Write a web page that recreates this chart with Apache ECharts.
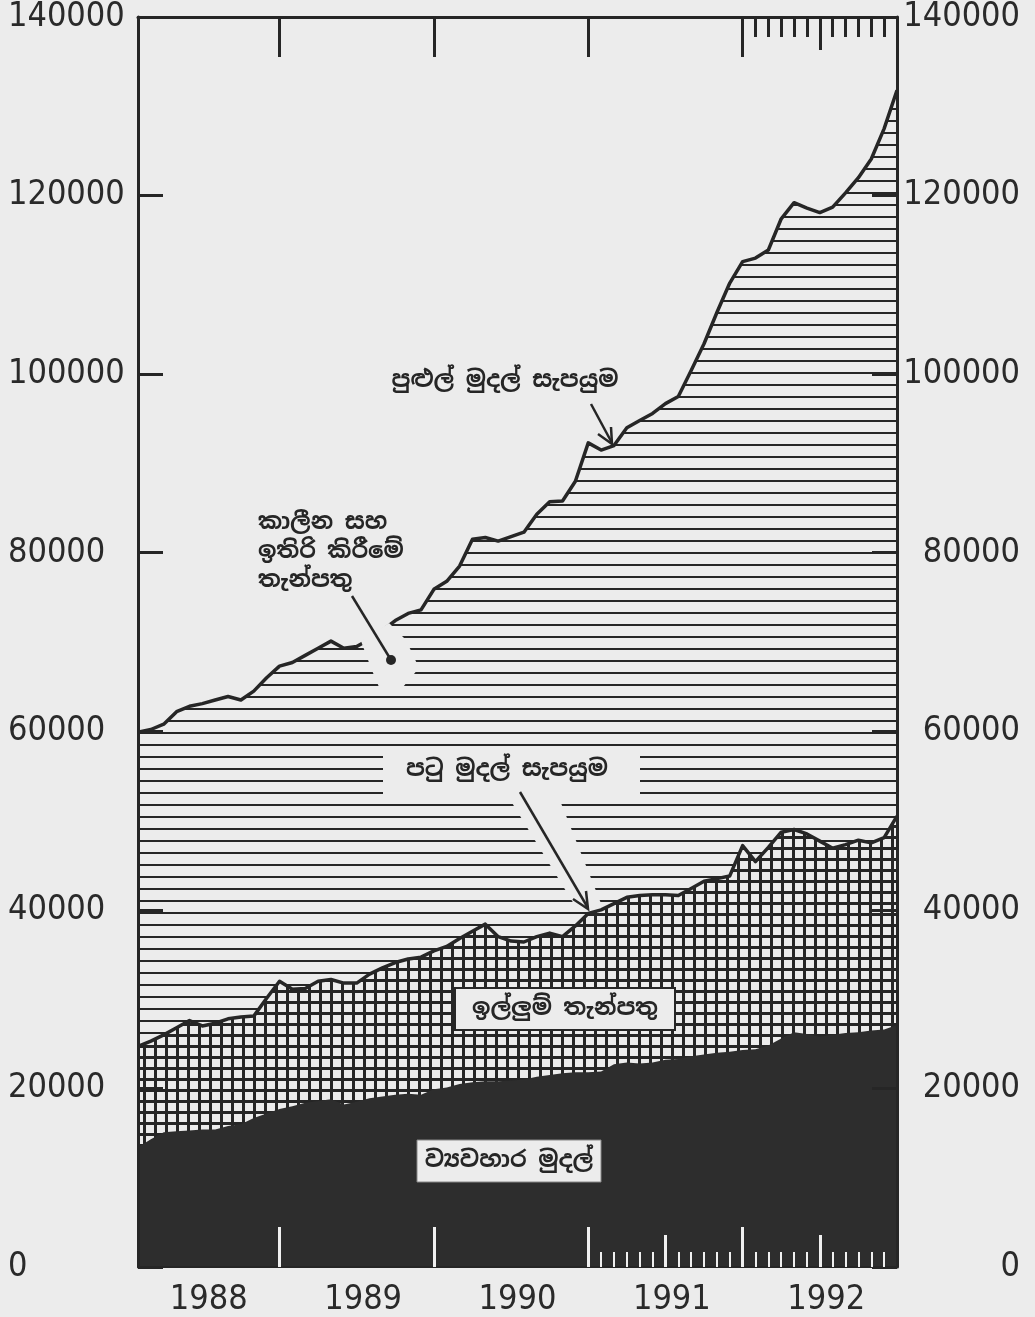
<!DOCTYPE html>
<html>
<head>
<meta charset="utf-8">
<script src="https://cdn.jsdelivr.net/npm/echarts@6/dist/echarts.min.js"></script>
<style>
html,body{margin:0;padding:0;background:#ececec;}
#c{width:1035px;height:1317px;}
</style>
</head>
<body>
<div id="c"></div>
<script>
// ---------- data (monthly, end of month, Jan 1988 .. Dec 1992) ----------
const years = ['1988', '1989', '1990', '1991', '1992'];
const yTickLabels = ['0', '20000', '40000', '60000', '80000', '100000', '120000', '140000'];

// broad money supply (top of horizontal hatch)
const broadMoney = [
  59900, 60200, 60800, 62200, 62800, 63100, 63500, 63900, 63500, 64500, 66000, 67300,
  67700, 68500, 69300, 70100, 69300, 69500, 70300, 71300, 72400, 73200, 73600, 75900,
  76800, 78500, 81500, 81700, 81300, 81800, 82300, 84300, 85700, 85800, 88000, 92300,
  91500, 92000, 94000, 94800, 95600, 96700, 97500, 100400, 103400, 106900, 110200, 112600,
  113000, 113900, 117400, 119200, 118600, 118100, 118700, 120300, 122000, 124100, 127500, 131800
];
// narrow money supply (top of cross hatch)
const narrowMoney = [
  24700, 25300, 26000, 26800, 27600, 27000, 27300, 27800, 28000, 28100, 30100, 32000,
  31100, 31200, 32000, 32200, 31800, 31800, 32800, 33500, 34100, 34500, 34700, 35400,
  35900, 36800, 37600, 38400, 37000, 36500, 36400, 37000, 37400, 37000, 38200, 39600,
  40000, 40700, 41400, 41600, 41700, 41700, 41600, 42400, 43200, 43500, 43800, 47200,
  45400, 47000, 48700, 49000, 48500, 47700, 46900, 47300, 47800, 47500, 48100, 50500
];
// currency (dark area)
const currency = [
  13400, 14300, 15100, 15200, 15300, 15400, 15400, 15800, 16000, 16700, 17200, 17700,
  18000, 18400, 18600, 18800, 18200, 18500, 18900, 19100, 19300, 19400, 19300, 19900,
  20100, 20500, 20700, 20800, 20800, 20900, 21000, 21300, 21500, 21700, 21800, 21800,
  21900, 22700, 22900, 22800, 22900, 23200, 23300, 23600, 23800, 24000, 24100, 24300,
  24400, 24800, 25600, 26300, 26100, 25800, 26000, 26200, 26300, 26500, 26600, 27100
];

const seriesNames = {
  broad: 'පුළුල් මුදල් සැපයුම',
  narrow: 'පටු මුදල් සැපයුම',
  time: 'කාලීන සහ\nඉතිරි කිරීමේ\nතැන්පතු',
  demand: 'ඉල්ලුම් තැන්පතු',
  currency: 'ව්‍යවහාර මුදල්'
};

// month positions of ticks (month index, 12 = end of 1988)
const yearBoundaryMonths = [12, 24, 36, 48];
const bottomMinorMonths = [37, 38, 39, 40, 41, 43, 44, 45, 46, 47, 49, 50, 51, 52, 53, 55, 56, 57, 58, 59];
const bottomMidMonths = [42, 54];
const topMinorMonths = [49, 50, 51, 52, 53, 55, 56, 57, 58, 59];
const topMidMonths = [54];
const yearLabelPos = [6.5, 18.5, 30.5, 42.5, 54.5];

// ---------- styling ----------
const PAPER = '#ececec';
const INK = '#262626';
const DARK = '#2d2d2d';
const NUM_FONT = "'Liberation Sans Narrow', 'DejaVu Sans Condensed', 'Liberation Sans', sans-serif";
const SIN_FONT = "'Noto Sans Sinhala', 'Iskoola Pota', 'Noto Sans', sans-serif";
const NUM_SIZE = 34;

function makePattern(w, h, draw) {
  const c = document.createElement('canvas');
  c.width = w; c.height = h;
  const g = c.getContext('2d');
  g.fillStyle = PAPER; g.fillRect(0, 0, w, h);
  g.fillStyle = INK; draw(g, w, h);
  return { image: c, repeat: 'repeat' };
}
const hatchPattern = makePattern(12, 12, (g, w) => g.fillRect(0, 0, w, 2));
const gridPattern = makePattern(11, 11, (g, w, h) => { g.fillRect(0, 0, 3, h); g.fillRect(0, 0, w, 3); });

function pairs(arr) { return arr.map((v, i) => [i + 1, v]); }

const xBase = { type: 'value', min: 1, max: 60, splitLine: { show: false }, z: 10 };
function tickAxis(position, values, length, color, width, showLine) {
  return Object.assign({}, xBase, {
    position: position,
    axisLine: { show: !!showLine, onZero: false, lineStyle: { color: INK, width: 3 } },
    axisTick: { show: true, inside: true, length: length, customValues: values, lineStyle: { color: color, width: width } },
    axisLabel: { show: false }
  });
}

const yBase = {
  type: 'value', min: 0, max: 140000, interval: 20000, splitLine: { show: false }, z: 10,
  axisLine: { show: true, lineStyle: { color: INK, width: 3 } },
  axisTick: { show: true, inside: true, length: 25, lineStyle: { color: INK, width: 3 } }
};

const chart = echarts.init(document.getElementById('c'), null, { renderer: 'canvas' });

const labelFont = 'bold 23px ' + SIN_FONT;

chart.setOption({
  backgroundColor: PAPER,
  animation: false,
  grid: { left: 138, right: 138, top: 17, bottom: 49 },
  xAxis: [
    Object.assign({}, xBase, {
      position: 'bottom',
      axisLine: { show: true, onZero: false, lineStyle: { color: INK, width: 2 } },
      axisTick: { show: true, inside: true, length: 40, customValues: yearBoundaryMonths, lineStyle: { color: '#f0f0f0', width: 3 } },
      axisLabel: {
        show: true, customValues: yearLabelPos, margin: 16,
        formatter: v => years[Math.floor(v / 12)],
        fontSize: NUM_SIZE, fontFamily: NUM_FONT, color: '#2a2a2a'
      }
    }),
    tickAxis('bottom', bottomMinorMonths, 15, '#f0f0f0', 2, false),
    tickAxis('bottom', bottomMidMonths, 32, '#f0f0f0', 3, false),
    tickAxis('top', yearBoundaryMonths, 40, INK, 3, true),
    tickAxis('top', topMinorMonths, 20, INK, 3, false),
    tickAxis('top', topMidMonths, 33, INK, 3, false)
  ],
  yAxis: [
    Object.assign({}, yBase, {
      position: 'left',
      axisLabel: { align: 'left', margin: 130, fontSize: NUM_SIZE, fontFamily: NUM_FONT, color: '#2a2a2a',
        padding: [6, 0, 0, 0],
        formatter: v => yTickLabels[Math.round(v / 20000)] }
    }),
    Object.assign({}, yBase, {
      position: 'right',
      axisLabel: { align: 'right', margin: 123, fontSize: NUM_SIZE, fontFamily: NUM_FONT, color: '#2a2a2a',
        padding: [0, 0, 10, 0],
        formatter: v => yTickLabels[Math.round(v / 20000)] }
    })
  ],
  series: [
    {
      type: 'line', name: seriesNames.broad, data: pairs(broadMoney), symbol: 'none', z: 2,
      lineStyle: { color: INK, width: 3.5, join: 'round' },
      areaStyle: { color: hatchPattern, opacity: 1 }
    },
    {
      type: 'line', name: seriesNames.narrow, data: pairs(narrowMoney), symbol: 'none', z: 3,
      lineStyle: { color: INK, width: 3.5, join: 'round' },
      areaStyle: { color: gridPattern, opacity: 1 }
    },
    {
      type: 'line', name: seriesNames.currency, data: pairs(currency), symbol: 'none', z: 4,
      lineStyle: { width: 0 },
      areaStyle: { color: DARK, opacity: 1 }
    }
  ],
  graphic: [
    // cleared gap around the time & savings leader
    { type: 'polygon', z: 100, shape: { points: [[361, 641], [389, 623], [406, 640], [419, 668], [403, 687], [379, 687], [371, 668]] }, style: { fill: PAPER } },
    { type: 'line', z: 101, shape: { x1: 352, y1: 596, x2: 391, y2: 660 }, style: { stroke: INK, lineWidth: 2.5 } },
    { type: 'circle', z: 101, shape: { cx: 391, cy: 660, r: 5 }, style: { fill: INK } },
    { type: 'text', z: 101, style: { text: seriesNames.time, x: 258, y: 508, font: labelFont, fill: INK, lineHeight: 29, align: 'left', verticalAlign: 'top' } },

    // broad money label and arrow
    { type: 'text', z: 101, style: { text: seriesNames.broad, x: 505, y: 381, font: labelFont, fill: INK, align: 'center', verticalAlign: 'middle' } },
    { type: 'line', z: 101, shape: { x1: 591, y1: 404, x2: 612, y2: 443 }, style: { stroke: INK, lineWidth: 2.5 } },
    { type: 'polyline', z: 101, shape: { points: [[598, 434], [612, 444], [611, 427]] }, style: { stroke: INK, lineWidth: 2.5, fill: null } },

    // narrow money label box and arrow
    { type: 'rect', z: 100, shape: { x: 383, y: 746, width: 257, height: 48 }, style: { fill: PAPER } },
    { type: 'polygon', z: 100, shape: { points: [[506, 793], [557, 793], [602, 906], [577, 909]] }, style: { fill: PAPER } },
    { type: 'text', z: 101, style: { text: seriesNames.narrow, x: 507, y: 770, font: labelFont, fill: INK, align: 'center', verticalAlign: 'middle' } },
    { type: 'line', z: 101, shape: { x1: 520, y1: 792, x2: 588, y2: 908 }, style: { stroke: INK, lineWidth: 2.5 } },
    { type: 'polyline', z: 101, shape: { points: [[573, 899], [588, 909], [586, 891]] }, style: { stroke: INK, lineWidth: 2.5, fill: null } },

    // demand deposits box
    { type: 'rect', z: 100, shape: { x: 455, y: 988, width: 220, height: 42 }, style: { fill: PAPER, stroke: INK, lineWidth: 2 } },
    { type: 'text', z: 101, style: { text: seriesNames.demand, x: 565, y: 1009, font: labelFont, fill: INK, align: 'center', verticalAlign: 'middle' } },

    // currency box
    { type: 'rect', z: 100, shape: { x: 417, y: 1140, width: 184, height: 42 }, style: { fill: PAPER, stroke: '#888', lineWidth: 1 } },
    { type: 'text', z: 101, style: { text: seriesNames.currency, x: 509, y: 1161, font: labelFont, fill: INK, align: 'center', verticalAlign: 'middle' } }
  ]
});
</script>
</body>
</html>
